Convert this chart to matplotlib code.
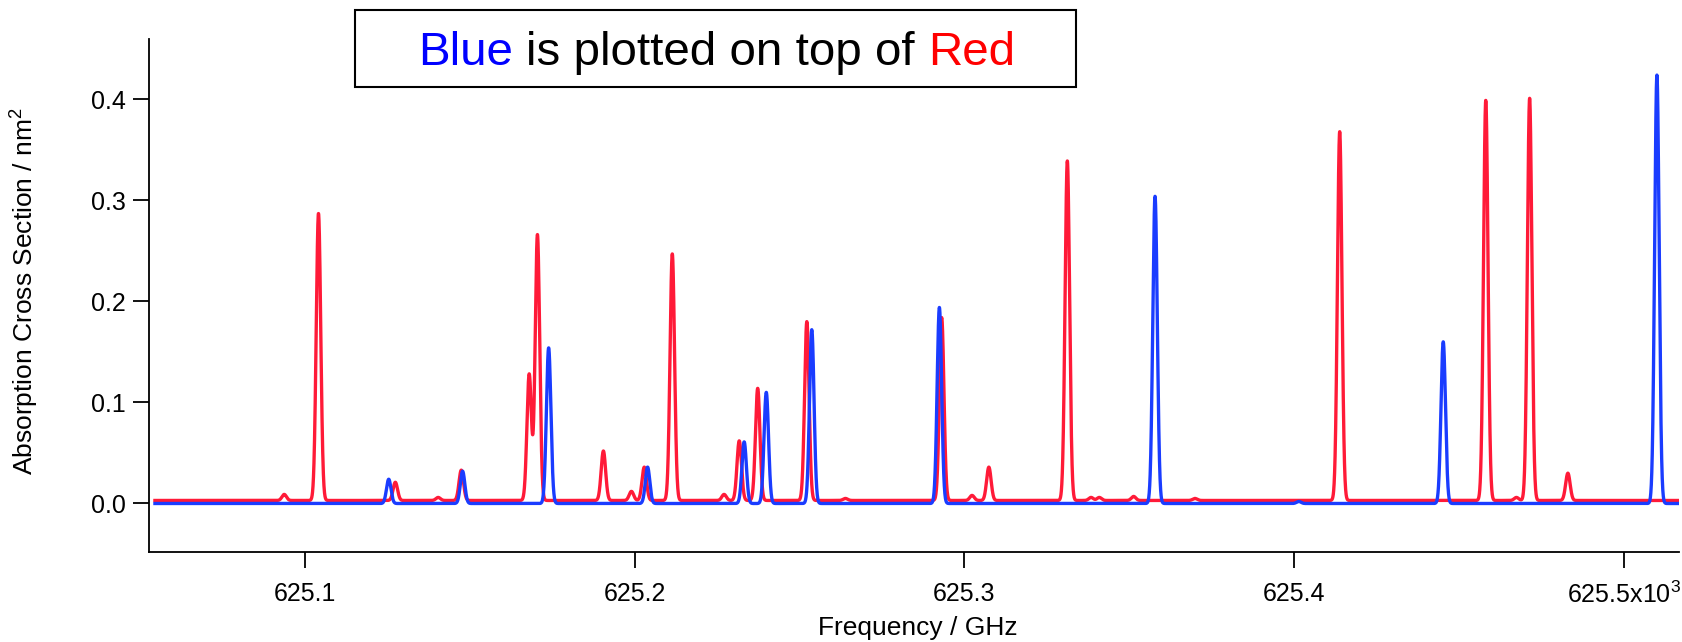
import numpy as np
import matplotlib
matplotlib.use("Agg")
import matplotlib.pyplot as plt
from matplotlib.patches import Rectangle

plt.rcParams['font.family'] = ['Liberation Sans', 'DejaVu Sans']
plt.rcParams['mathtext.fontset'] = 'custom'
plt.rcParams['mathtext.rm'] = 'Liberation Sans'
plt.rcParams['mathtext.it'] = 'Liberation Sans:italic'
plt.rcParams['mathtext.bf'] = 'Liberation Sans:bold'

# ---------------- data ----------------
# frequency in units of 10^3 GHz
red_centers = [625.0937, 625.1041, 625.1274, 625.1404, 625.1474, 625.1680, 625.1705,
               625.1905, 625.1990, 625.2029, 625.2114, 625.2271, 625.2317, 625.2373,
               625.2522, 625.2639, 625.2931, 625.3023, 625.3074, 625.3312, 625.3384,
               625.3409, 625.3513, 625.3699, 625.4138, 625.4581, 625.4674, 625.4714,
               625.4830]
red_heights = [0.006, 0.284, 0.018, 0.003, 0.030, 0.125, 0.263,
               0.049, 0.009, 0.033, 0.244, 0.006, 0.059, 0.111,
               0.177, 0.002, 0.181, 0.005, 0.033, 0.336, 0.003,
               0.003, 0.004, 0.002, 0.365, 0.396, 0.003, 0.398,
               0.027]
red_baseline = 0.003

blue_centers = [625.1254, 625.1478, 625.1739, 625.2039, 625.2332, 625.2399,
                625.2537, 625.2924, 625.3578, 625.4014, 625.4452, 625.5100]
blue_heights = [0.024, 0.032, 0.154, 0.036, 0.061, 0.110,
                0.172, 0.194, 0.304, 0.002, 0.160, 0.424]
blue_baseline = 0.0

line_sigma = 0.00068          # line width (GHz x10^3)
freq_start, freq_stop = 625.0545, 625.5165

x_ticks = [625.1, 625.2, 625.3, 625.4, 625.5]
x_tick_labels = ['625.1', '625.2', '625.3', '625.4', '625.5x10$^{3}$']
y_ticks = [0.0, 0.1, 0.2, 0.3, 0.4]
y_tick_labels = ['0.0', '0.1', '0.2', '0.3', '0.4']

# ---------------- build spectra from the peak lists ----------------
freq = np.linspace(freq_start, freq_stop, 16000)


def spectrum(centers, heights, base):
    y = np.full_like(freq, base)
    for c, h in zip(centers, heights):
        y += h * np.exp(-0.5 * ((freq - c) / line_sigma) ** 2)
    return y


red_y = spectrum(red_centers, red_heights, red_baseline)
blue_y = spectrum(blue_centers, blue_heights, blue_baseline)

# ---------------- figure ----------------
W, H = 1683, 642
fig = plt.figure(figsize=(W / 100, H / 100), dpi=100)
L, R, T, B = 149, 1679, 38.7, 552
ax = fig.add_axes([L / W, 1 - B / H, (R - L) / W, (B - T) / H])

ax.plot(freq, red_y, color='#ff1a38', lw=2.4, zorder=2)
ax.plot(freq, blue_y, color='#1a3cff', lw=2.4, zorder=3)

ax.set_xlim(625.0527, 625.5167)
ax.set_ylim(-0.048, 0.46)

for s in ['top', 'right']:
    ax.spines[s].set_visible(False)
for s in ['left', 'bottom']:
    ax.spines[s].set_linewidth(1.3)

ax.set_xticks(x_ticks)
ax.set_xticklabels(x_tick_labels)
ax.set_yticks(y_ticks)
ax.set_yticklabels(y_tick_labels)
ax.tick_params(axis='both', direction='out', length=11.5, width=1.3,
               labelsize=18, colors='black')
ax.tick_params(axis='y', pad=5.5)
ax.tick_params(axis='x', pad=10)

fig.text(41 / W, 1 - 291 / H, 'Absorption Cross Section / nm$^{2}$',
         rotation=90, ha='right', va='center', fontsize=19)
fig.text(918 / W, 1 - 634.5 / H, 'Frequency / GHz', ha='center',
         va='baseline', fontsize=19)

# title box
fig.patches.append(Rectangle((355 / W, 1 - 87 / H), (1076 - 355) / W, 77 / H,
                             transform=fig.transFigure, fill=False,
                             edgecolor='black', linewidth=1.5))
title_fs = 34.2
renderer = fig.canvas.get_renderer()


def text_width(s):
    t = fig.text(0, 0, s, fontsize=title_fs)
    w = t.get_window_extent(renderer=renderer).width
    t.remove()
    return w


space_w = text_width('i i') - text_width('ii')
pieces = [('Blue', '#0000ff'), ('is plotted on top of', 'black'), ('Red', '#ff0000')]
x_px = 418
title_base = 1 - 65 / H
for s, c in pieces:
    fig.text(x_px / W, title_base, s, fontsize=title_fs, ha='left',
             va='baseline', color=c)
    x_px += text_width(s) + space_w

fig.savefig('out.png', dpi=100)
